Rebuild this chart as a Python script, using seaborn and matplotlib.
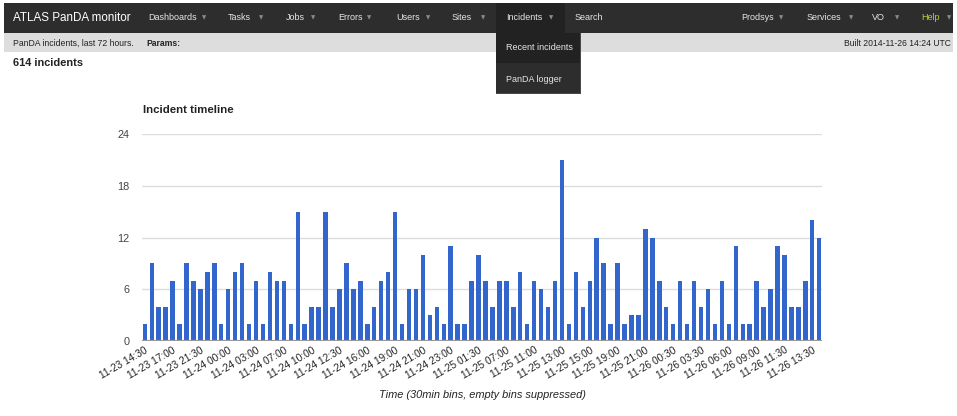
import matplotlib
matplotlib.use("Agg")
import matplotlib.pyplot as plt
import pandas as pd
import seaborn as sns
from matplotlib.patches import Rectangle

# incidents per 30 min bin (empty bins suppressed), 614 total
counts = [2, 9, 4, 4, 7, 2, 9, 7, 6, 8,
          9, 2, 6, 8, 9, 2, 7, 2, 8, 7,
          7, 2, 15, 2, 4, 4, 15, 4, 6, 9,
          6, 7, 2, 4, 7, 8, 15, 2, 6, 6,
          10, 3, 4, 2, 11, 2, 2, 7, 10, 7,
          4, 7, 7, 4, 8, 2, 7, 6, 4, 7,
          21, 2, 8, 4, 7, 12, 9, 2, 9, 2,
          3, 3, 13, 12, 7, 4, 2, 7, 2, 7,
          4, 6, 2, 7, 2, 11, 2, 2, 7, 4,
          6, 11, 10, 4, 4, 7, 14, 12]
bins = list(range(len(counts)))
tick_every = 4
tick_labels = ["11-23 14:30", "11-23 17:00", "11-23 21:30", "11-24 00:00", "11-24 03:00",
               "11-24 07:00", "11-24 10:00", "11-24 12:30", "11-24 16:00", "11-24 19:00",
               "11-24 21:00", "11-24 23:00", "11-25 01:30", "11-25 07:00", "11-25 11:00",
               "11-25 13:00", "11-25 15:00", "11-25 19:00", "11-25 21:00", "11-26 00:30",
               "11-26 03:30", "11-26 06:00", "11-26 09:00", "11-26 11:30", "11-26 13:30"]
y_ticks = [0, 6, 12, 18, 24]

nav_left = ["Dashboards", "Tasks", "Jobs", "Errors", "Users", "Sites", "Incidents", "Search"]
nav_right = ["Prodsys", "Services", "VO", "Help"]

sns.set_style("white")
plt.rcParams['font.family'] = ['Liberation Sans', 'DejaVu Sans']

W, H = 957, 416
fig = plt.figure(figsize=(W / 100, H / 100), dpi=100)
fig.patch.set_facecolor("white")


def box(x0, y0, x1, y1, color):
    fig.add_artist(Rectangle((x0 / W, 1 - y1 / H), (x1 - x0) / W, (y1 - y0) / H,
                             transform=fig.transFigure, facecolor=color,
                             edgecolor="none", zorder=1))


def txt(x, y, s, size, color="#222222", weight="normal", ha="left", **kw):
    fig.text(x / W, 1 - y / H, s, fontsize=size, color=color, weight=weight,
             ha=ha, va="center", zorder=3, **kw)


def caret(x, y):
    fig.text(x / W, 1 - y / H, "\u25bc", fontsize=4, color="#8a8a8a",
             family="DejaVu Sans", ha="center", va="center", zorder=3)


# top bar
box(4, 3, 953, 33, "#2d2d2d")
box(496, 3, 565, 33, "#222222")
txt(13, 18, "ATLAS PanDA monitor", 8.4, color="white")
left_x = [148, 228, 286, 338, 396, 452, 506, 575]
caret_x = [204, 261, 313, 369, 428, 483, 551, None]
for name, x, cx in zip(nav_left, left_x, caret_x):
    txt(x, 18, name, 6.5, color="#e6e6e6")
    if cx:
        caret(cx, 18)
right_x = [741, 807, 872, 921]
rcaret_x = [781, 851, 897, 949]
for name, x, cx in zip(nav_right, right_x, rcaret_x):
    txt(x, 18, name, 6.5, color="#bccd3c" if name == "Help" else "#e6e6e6")
    caret(cx, 18)

# params strip
box(4, 33, 953, 52, "#dddddd")
txt(13, 43, "PanDA incidents, last 72 hours.", 6.2)
txt(146, 43, "Params:", 6.2, weight="bold")
txt(951, 43, "Built 2014-11-26 14:24 UTC", 6.2, ha="right")

# dropdown menu
box(496, 33, 581, 94, "#4a4a4a")
box(496, 33, 580, 63, "#222222")
box(496, 63, 580, 93, "#2d2d2d")
txt(506, 48, "Recent incidents", 6.5, color="#e6e6e6")
txt(506, 79, "PanDA logger", 6.5, color="#e6e6e6")

txt(13, 63, "614 incidents", 7.9, weight="bold")
txt(143, 110, "Incident timeline", 8.2, weight="bold")

# chart
df = pd.DataFrame({"bin": bins, "incidents": counts})
ax = fig.add_axes([142 / W, 1 - 341 / H, 680 / W, 207 / H])
sns.barplot(data=df, x="bin", y="incidents", color="#3366cc", saturation=1,
            width=0.64, errorbar=None, linewidth=0, ax=ax, zorder=2)
ax.set_xlim(-0.4, len(counts) - 0.6)
ax.set_ylim(0, 24)
ax.set_yticks(y_ticks)
ax.set_yticklabels([str(v) for v in y_ticks], fontsize=7.8, color="#444444")
ax.set_xticks(bins[::tick_every])
ax.set_xticklabels(tick_labels, rotation=30, ha="right", rotation_mode="anchor",
                   fontsize=7.3, color="#222222")
ax.tick_params(axis="both", length=0)
ax.tick_params(axis="y", pad=9)
ax.tick_params(axis="x", pad=3)
ax.grid(axis="y", color="#dddddd", lw=1)
ax.set_axisbelow(True)
ax.axhline(0, color="#999999", lw=1.6, zorder=3)
ax.set_xlabel("")
ax.set_ylabel("")
sns.despine(ax=ax, left=True, bottom=True)

txt(482, 395, "Time (30min bins, empty bins suppressed)", 7.9, ha="center", style="italic")

fig.savefig("out.png", dpi=100)
